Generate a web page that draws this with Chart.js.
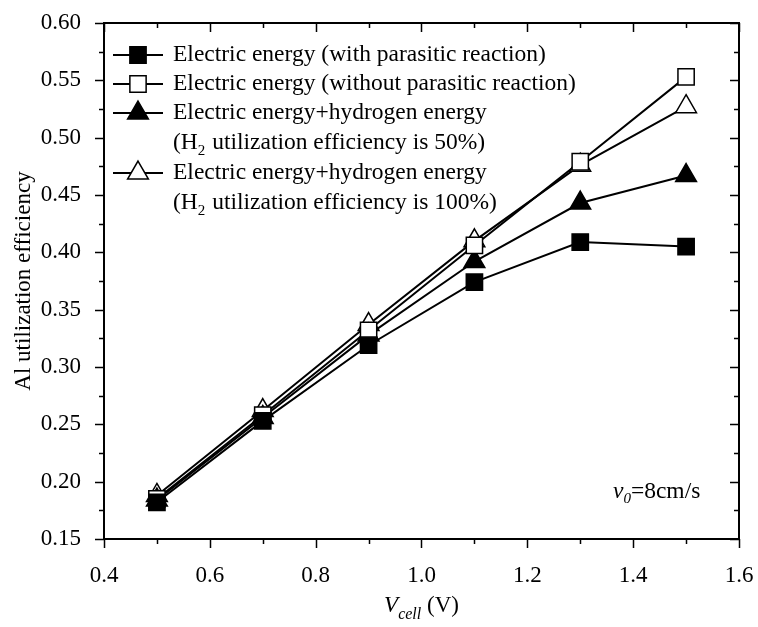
<!DOCTYPE html>
<html>
<head>
<meta charset="utf-8">
<script src="https://cdn.jsdelivr.net/npm/chart.js@4"></script>
<style>
  html, body { margin: 0; padding: 0; background: #fff; }
  #wrap { width: 758px; height: 627px; }
</style>
</head>
<body>
<div id="wrap"><canvas id="chart" width="758" height="627"></canvas></div>
<script>
// cell voltage (V)
const vCell = [0.5, 0.7, 0.9, 1.1, 1.3, 1.5];

// Al utilization efficiency per case
const withParasitic    = [0.182, 0.253, 0.319, 0.374, 0.409, 0.405];
const withoutParasitic = [0.185, 0.258, 0.332, 0.406, 0.479, 0.553];
const h2Half           = [0.184, 0.256, 0.328, 0.392, 0.443, 0.467];
const h2Full           = [0.188, 0.262, 0.337, 0.410, 0.476, 0.527];

const FONT = "'Liberation Serif', 'DejaVu Serif', serif";
const SIZE = 23;

function pts(ys) {
  return vCell.map((x, i) => ({ x, y: ys[i] }));
}

function series(label, ys, style, filled) {
  return {
    label,
    data: pts(ys),
    showLine: true,
    borderColor: "#000",
    borderWidth: 2,
    pointStyle: style,
    pointRadius: style === "rect" ? 11.5 : 12,
    pointBorderWidth: 1.5,
    pointBorderColor: "#000",
    pointBackgroundColor: filled ? "#000" : "#fff"
  };
}

const datasets = [
  series("Electric energy (with parasitic reaction)", withParasitic, "rect", true),
  series("Electric energy (without parasitic reaction)", withoutParasitic, "rect", false),
  series("Electric energy+hydrogen energy|(H2 utilization efficiency is 50%)", h2Half, "triangle", true),
  series("Electric energy+hydrogen energy|(H2 utilization efficiency is 100%)", h2Full, "triangle", false)
];

// draw "H2" with a subscript 2, other text as is
function drawRich(ctx, text, x, y) {
  const parts = text.split("H2");
  let cx = x;
  parts.forEach((p, i) => {
    ctx.font = `23.5px ${FONT}`;
    ctx.fillText(p, cx, y);
    cx += ctx.measureText(p).width;
    if (i < parts.length - 1) {
      ctx.fillText("H", cx, y);
      cx += ctx.measureText("H").width;
      ctx.font = `15px ${FONT}`;
      ctx.fillText("2", cx, y + 8);
      cx += ctx.measureText("2").width + 1;
    }
  });
}

function marker(ctx, style, filled, x, y) {
  ctx.save();
  ctx.lineWidth = 1.5;
  ctx.strokeStyle = "#000";
  ctx.fillStyle = filled ? "#000" : "#fff";
  ctx.beginPath();
  if (style === "rect") {
    const s = 11.5 * Math.SQRT1_2;
    ctx.rect(x - s, y - s, 2 * s, 2 * s);
  } else {
    const r = 12;
    for (let k = 0; k < 3; k++) {
      const a = k * 2 * Math.PI / 3;
      const px = x + Math.sin(a) * r, py = y - Math.cos(a) * r;
      k ? ctx.lineTo(px, py) : ctx.moveTo(px, py);
    }
    ctx.closePath();
  }
  ctx.fill();
  ctx.stroke();
  ctx.restore();
}

const frame = {
  id: "frame",
  afterDatasetsDraw(chart) {
    const { ctx, chartArea: a, scales: { x, y } } = chart;
    ctx.save();
    ctx.strokeStyle = "#000";
    ctx.lineWidth = 2;
    ctx.strokeRect(a.left, a.top, a.right - a.left, a.bottom - a.top);

    ctx.lineWidth = 1.5;
    ctx.beginPath();
    // x ticks: major every 0.2 (out at bottom, in at top), minor between
    for (let k = 0; k <= 12; k++) {
      const v = 0.4 + k * 0.1;
      const px = Math.round(x.getPixelForValue(v)) + 0.5;
      const len = k % 2 === 0 ? 9 : 5;
      ctx.moveTo(px, a.bottom); ctx.lineTo(px, a.bottom + len);
      ctx.moveTo(px, a.top); ctx.lineTo(px, a.top + len);
    }
    // y ticks: major every 0.05, minor every 0.025
    for (let k = 0; k <= 18; k++) {
      const v = 0.15 + k * 0.025;
      const py = Math.round(y.getPixelForValue(v)) + 0.5;
      const len = k % 2 === 0 ? 9 : 5;
      ctx.moveTo(a.left, py); ctx.lineTo(a.left - len, py);
      ctx.moveTo(a.right, py); ctx.lineTo(a.right - len, py);
    }
    ctx.stroke();

    // legend
    ctx.fillStyle = "#000";
    ctx.textBaseline = "middle";
    ctx.textAlign = "left";
    const rows = [55, 84, 113, 173];
    datasets.forEach((d, i) => {
      const ry = rows[i];
      ctx.lineWidth = 2;
      ctx.beginPath();
      ctx.moveTo(113, ry); ctx.lineTo(163, ry);
      ctx.stroke();
      marker(ctx, d.pointStyle, d.pointBackgroundColor === "#000", 138, ry);
      const lines = d.label.split("|");
      ctx.fillStyle = "#000";
      drawRich(ctx, lines[0], 173, ry);
      if (lines[1]) drawRich(ctx, lines[1], 173, ry + 30);
    });

    // annotation v0=8cm/s
    let tx = 613, ty = 492;
    ctx.font = `italic 23.5px ${FONT}`;
    ctx.fillText("v", tx, ty);
    tx += ctx.measureText("v").width;
    ctx.font = `italic 15px ${FONT}`;
    ctx.fillText("0", tx, ty + 7);
    tx += ctx.measureText("0").width;
    ctx.font = `23.5px ${FONT}`;
    ctx.fillText("=8cm/s", tx, ty);

    // x title
    const cx = (a.left + a.right) / 2;
    ctx.font = `italic ${SIZE}px ${FONT}`;
    const wV = ctx.measureText("V").width;
    ctx.font = `italic 16px ${FONT}`;
    const wSub = ctx.measureText("cell").width;
    ctx.font = `${SIZE}px ${FONT}`;
    const wRest = ctx.measureText(" (V)").width;
    let xx = cx - (wV + wSub + wRest) / 2;
    const xy = 606;
    ctx.font = `italic ${SIZE}px ${FONT}`;
    ctx.fillText("V", xx, xy); xx += wV;
    ctx.font = `italic 16px ${FONT}`;
    ctx.fillText("cell", xx, xy + 9); xx += wSub;
    ctx.font = `${SIZE}px ${FONT}`;
    ctx.fillText(" (V)", xx, xy);

    // y title
    ctx.translate(24, (a.top + a.bottom) / 2);
    ctx.rotate(-Math.PI / 2);
    ctx.textAlign = "center";
    ctx.fillText("Al utilization efficiency", 0, 0);
    ctx.restore();
  }
};

new Chart(document.getElementById("chart"), {
  type: "scatter",
  data: { datasets },
  options: {
    responsive: false,
    animation: false,
    layout: { padding: { left: 0, right: 19, top: 23, bottom: 0 } },
    plugins: { legend: { display: false }, tooltip: { enabled: false } },
    scales: {
      x: {
        type: "linear",
        min: 0.4, max: 1.6,
        grid: { display: false },
        border: { display: false },
        ticks: {
          stepSize: 0.2,
          padding: 15,
          color: "#000",
          font: { family: FONT, size: SIZE },
          callback: v => v.toFixed(1)
        },
        afterFit: s => { s.height = 88; s.paddingLeft = 0; s.paddingRight = 0; }
      },
      y: {
        min: 0.15, max: 0.6,
        grid: { display: false },
        border: { display: false },
        ticks: {
          stepSize: 0.05,
          padding: 15,
          color: "#000",
          font: { family: FONT, size: SIZE },
          callback: v => v.toFixed(2)
        },
        afterFit: s => { s.width = 104; s.paddingTop = 0; s.paddingBottom = 0; }
      }
    }
  },
  plugins: [frame]
});
</script>
</body>
</html>
